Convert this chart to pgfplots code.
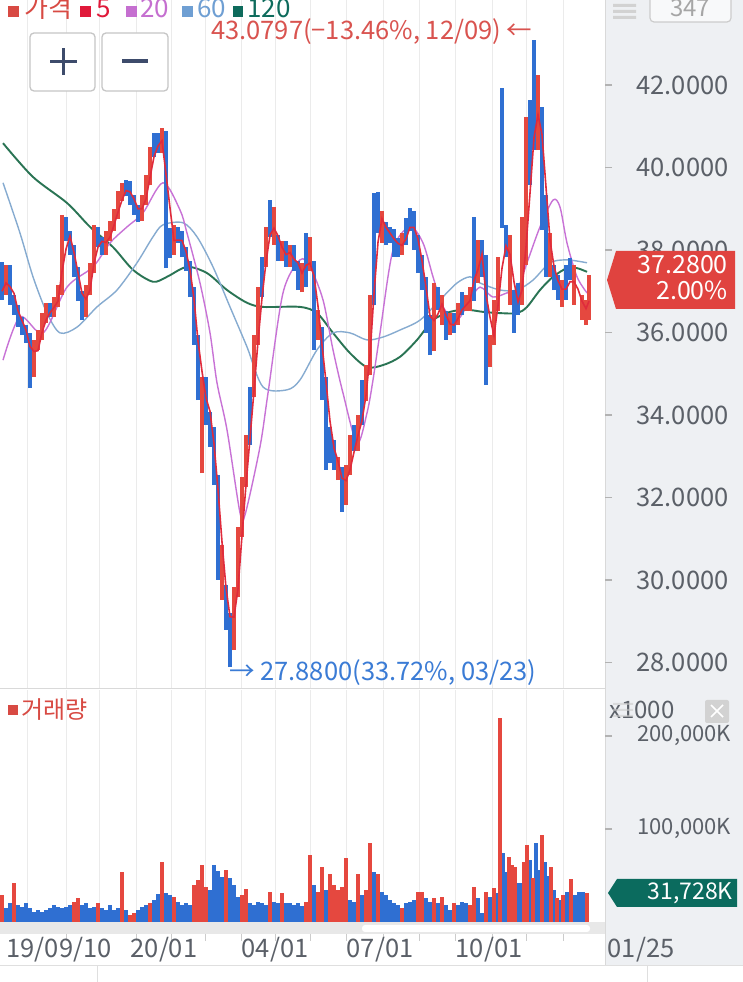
\documentclass[border=0pt]{standalone}
\usepackage{pgfplots}
\pgfplotsset{compat=1.18}
\usepackage{pgfplotstable}
\usepackage{fontspec}
\setmainfont{Noto Sans CJK KR}
\newcommand\fs[1]{\fontsize{#1bp}{#1bp}\selectfont}
\definecolor{candred}{HTML}{E5483F}
\definecolor{candblue}{HTML}{2F6FD2}
\definecolor{maf}{HTML}{E02B3C}
\definecolor{mat}{HTML}{C872D6}
\definecolor{mas}{HTML}{86ABD0}
\definecolor{mao}{HTML}{2A7454}
\definecolor{gridgrey}{HTML}{EBEBEB}
\definecolor{panelgrey}{HTML}{EEF0F3}
\definecolor{labgrey}{HTML}{5B6068}
\definecolor{tagred}{HTML}{E0433F}
\definecolor{tagteal}{HTML}{0B6B5E}
\definecolor{annred}{HTML}{D9534F}
\definecolor{annblue}{HTML}{3A7BD5}
\definecolor{legred}{HTML}{D84A43}
\definecolor{legfive}{HTML}{E0193A}
\definecolor{legtwenty}{HTML}{C56FD0}
\definecolor{legsixty}{HTML}{6F9FD3}
\definecolor{legonetwenty}{HTML}{0E6B5C}
\definecolor{btnnavy}{HTML}{3D4B6B}

\pgfplotstableread{
x lo hi
6 36.91 37.64
34 34.92 35.82
38 35.58 36.06
42 35.82 36.47
46 36.23 36.72
54 36.38 36.86
58 36.62 37.15
62 36.91 38.85
86 36.38 37.15
90 36.91 37.69
94 37.44 38.61
106 37.88 38.46
110 38.22 38.70
114 38.46 38.99
118 38.75 39.43
122 39.19 39.62
142 38.70 39.33
146 39.09 39.82
150 39.58 40.50
162 40.35 40.96
174 37.88 38.61
202 32.59 34.92
222 29.52 30.85
234 28.30 29.83
238 29.59 31.29
242 31.04 32.50
246 32.26 33.51
254 34.44 35.94
258 35.70 37.10
266 37.59 38.56
274 38.12 39.04
282 37.73 38.22
290 37.59 38.12
302 36.98 37.69
310 37.49 38.31
318 35.82 36.55
338 32.42 32.98
346 31.82 32.79
350 32.55 33.51
358 33.13 34.00
366 34.34 35.21
370 34.97 36.91
382 38.17 38.95
402 37.88 38.41
434 35.55 37.20
442 36.18 36.91
450 35.94 36.47
458 36.18 36.72
466 36.52 36.91
470 36.52 37.10
478 37.20 38.24
490 35.16 35.94
494 35.70 36.79
498 36.52 37.83
510 36.67 38.36
522 36.67 38.80
526 37.64 41.22
538 40.42 42.24
550 37.35 38.41
562 36.62 37.27
574 36.67 37.64
582 36.30 36.91
586 36.18 36.79
589 36.30 37.39
}\redcandles

\pgfplotstableread{
x lo hi
2 36.79 37.71
10 36.67 37.64
14 36.42 36.91
18 36.13 36.67
22 35.94 36.38
26 35.75 36.18
30 34.65 35.99
50 36.38 36.72
66 38.22 38.80
70 37.88 38.46
74 37.35 38.12
78 36.76 37.59
82 36.30 37.01
98 38.07 38.56
102 37.88 38.31
126 39.31 39.70
130 39.09 39.67
134 38.85 39.33
138 38.68 39.09
154 40.25 40.84
158 40.35 40.84
166 37.56 40.89
170 37.81 38.53
178 38.17 38.56
182 37.83 38.46
186 37.49 38.07
190 36.86 37.73
194 35.70 37.10
198 34.36 35.94
206 33.76 34.92
210 33.23 34.07
214 32.30 33.71
218 30.00 32.55
226 28.79 29.88
230 27.89 29.20
250 33.27 34.68
262 36.86 37.83
270 38.31 39.21
278 37.73 38.36
286 37.59 38.22
294 37.49 38.12
298 37.03 37.73
306 37.10 38.41
314 35.58 37.73
322 34.36 36.13
326 32.67 34.92
330 32.84 33.71
334 32.67 33.39
342 31.65 32.74
354 33.13 33.76
362 33.76 34.85
374 36.67 39.38
378 38.41 39.41
386 38.12 38.68
390 38.17 38.56
394 37.83 38.51
398 37.83 38.29
406 38.12 38.78
410 38.46 39.02
414 38.00 38.95
418 37.44 38.36
422 37.03 37.88
426 35.99 37.35
430 35.45 36.42
438 36.55 37.10
446 35.82 36.52
454 35.99 36.47
462 36.42 36.98
474 36.76 38.80
482 37.35 38.24
486 34.73 37.88
502 38.53 41.93
506 37.83 38.61
514 35.99 37.03
518 36.42 37.20
530 39.58 41.64
534 40.42 43.08
542 38.48 41.47
546 37.35 39.33
554 37.03 37.64
558 36.79 37.39
566 36.79 37.64
570 37.27 37.81
}\bluecandles

\pgfplotstableread{
x y
2 37.00
6 37.20
10 37.11
14 36.95
18 36.53
22 36.29
26 36.06
30 35.66
34 35.54
38 35.56
42 36.00
46 36.30
50 36.48
54 36.61
58 36.76
62 37.48
66 38.02
70 38.34
74 37.94
78 37.45
82 36.95
86 36.81
90 37.03
94 37.68
98 38.07
102 38.21
106 38.18
110 38.31
114 38.60
118 38.92
122 39.21
126 39.44
130 39.41
134 39.24
138 39.00
142 39.00
146 39.24
150 39.76
154 40.26
158 40.52
162 40.65
166 39.84
170 39.02
174 38.23
178 38.24
182 38.23
186 37.97
190 37.52
194 36.81
198 35.79
202 35.06
206 34.41
210 34.09
214 33.30
218 32.20
222 30.92
226 29.81
230 29.11
234 29.10
238 29.79
242 31.08
246 32.31
250 33.44
254 34.59
258 35.79
262 36.84
266 37.71
270 38.36
274 38.53
278 38.34
282 38.07
286 37.89
290 37.94
294 37.78
298 37.69
302 37.44
306 37.63
310 37.68
314 37.37
318 36.64
322 35.70
326 34.80
330 33.85
334 33.20
338 32.88
342 32.47
346 32.41
350 32.67
354 33.10
358 33.51
362 33.86
366 34.48
370 35.45
374 36.95
378 38.19
382 38.76
386 38.55
390 38.41
394 38.27
398 38.16
402 38.11
406 38.27
410 38.55
414 38.55
418 38.27
422 37.74
426 37.10
430 36.40
434 36.29
438 36.45
442 36.69
446 36.42
450 36.21
454 36.18
458 36.34
462 36.55
466 36.66
470 36.77
474 37.26
478 37.53
482 37.90
486 36.92
490 36.37
494 35.92
498 36.66
502 37.56
506 38.10
510 37.89
514 37.23
518 36.74
522 37.03
526 38.08
530 39.38
534 40.73
538 41.28
542 40.80
546 39.52
550 38.24
554 37.60
558 37.26
562 37.05
566 37.05
570 37.23
574 37.23
578 37.05
582 36.76
586 36.58
589 36.76
}\mafive

\pgfplotstableread{
x y
3 35.33
20 36.38
43 35.99
67 37.10
93 37.59
110 38.17
127 38.56
143 38.90
163 39.63
180 38.97
187 38.41
200 37.20
210 35.99
217 34.78
227 33.64
240 31.63
245 31.58
260 33.23
268 34.53
283 36.96
300 37.76
310 37.59
323 36.79
333 35.58
343 34.53
357 33.32
367 34.05
373 34.85
380 35.99
393 38.00
410 38.56
423 38.17
433 37.35
443 36.62
457 36.30
470 36.79
480 37.10
493 36.86
507 36.96
517 37.03
527 37.69
540 38.56
553 39.21
560 39.04
567 38.17
577 37.35
587 36.96
}\matwenty

\pgfplotstableread{
x y
3 39.63
20 38.41
33 37.35
47 36.47
60 35.99
77 36.13
97 36.62
117 37.03
137 37.69
153 38.32
163 38.61
183 38.66
197 38.32
213 37.59
230 36.62
247 35.65
263 34.68
287 34.61
300 34.85
317 35.58
333 35.99
350 35.99
367 35.82
383 35.89
400 36.06
420 36.30
440 36.79
457 37.20
470 37.35
480 37.20
500 37.03
517 37.03
533 37.27
550 37.69
567 37.76
587 37.69
}\masixty

\pgfplotstableread{
x y
3 40.59
33 39.77
67 39.14
90 38.56
113 38.07
133 37.52
153 37.23
167 37.35
187 37.59
207 37.44
227 37.03
247 36.72
263 36.62
300 36.62
317 36.47
333 35.99
350 35.50
367 35.16
383 35.21
400 35.41
417 35.82
433 36.30
450 36.50
467 36.55
483 36.50
500 36.47
517 36.47
527 36.62
540 37.03
553 37.35
567 37.56
577 37.56
587 37.47
}\maonetwenty

\pgfplotstableread{
x v
2 29
14 42
74 22
78 26
98 20
122 54
130 8
134 10
150 20
162 65
174 27
194 40
198 45
202 61
206 38
226 56
242 29
246 36
270 32
282 31
306 22
310 72
318 32
322 59
330 52
334 40
338 34
342 38
346 69
358 52
366 34
370 85
378 52
402 15
418 32
422 32
434 26
442 27
454 20
470 18
474 38
486 32
494 37
500 219
509 70
512 61
515 59
524 65
527 83
533 47
542 94
551 59
557 26
563 29
571 46
587 31.7
}\redvol

\pgfplotstableread{
x v
6 15
10 20
18 18
22 16
26 20
30 15
34 11
38 13
42 11
46 13
50 15
54 18
58 16
62 15
66 16
70 18
82 18
86 20
90 15
94 16
102 15
106 13
110 18
114 13
118 15
126 13
138 13
142 16
146 18
154 24
158 30
166 31
170 29
178 22
182 18
186 20
190 18
210 34
214 61
218 55
222 48
230 47
234 40
238 27
250 20
254 18
258 21
262 20
266 18
274 22
278 20
286 20
290 20
294 18
298 20
302 17
314 40
326 34
350 24
354 22
362 29
374 54
382 32
386 29
390 24
394 20
398 18
406 20
410 22
414 24
426 26
430 22
438 20
446 18
450 13
458 18
462 22
466 20
478 26
482 10
490 27
498 31
503 74
506 54
518 42
521 42
530 67
536 85
539 56
545 65
548 50
554 34
560 24
567 32
575 29
579 32
583 32
}\bluevol

\begin{document}
\begin{tikzpicture}[x=1bp,y=1bp]
\useasboundingbox (0,0) rectangle (743,982);
% backgrounds
\fill[white] (0,0) rectangle (743,982);
\fill[panelgrey] (605,17) rectangle (743,982);
\draw[gray!30, line width=1bp] (605,17) -- (605,982);
\fill[gray!18] (0,48) rectangle (605,60);
\fill[white, rounded corners=3bp] (362,50) rectangle (590,57);
\draw[gray!30, line width=1bp] (0,293) -- (605,293);
\draw[gray!25, line width=1bp] (0,16) -- (743,16);
\draw[gray!25, line width=1bp] (97,0) -- (97,16);
\draw[gray!25, line width=1bp] (647,0) -- (647,16);

% price panel
\begin{axis}[at={(0bp,294bp)}, anchor=south west, scale only axis,
  width=605bp, height=688bp,
  xmin=0, xmax=605, ymin=27.382, ymax=44.061,
  axis line style={draw=none},
  xtick={27,66,99,136,171,205,241,275,310,346,383,419,455,492,526,563},
  xticklabels={}, xtick style={draw=none},
  xmajorgrids, grid style={draw=gridgrey, line width=1bp},
  ytick={28,30,32,34,36,38,40,42},
  yticklabels={28.0000,30.0000,32.0000,34.0000,36.0000,38.0000,40.0000,42.0000},
  yticklabel pos=right, tick align=outside, major tick length=7bp,
  ytick style={draw=gray!60, line width=1.2bp},
  yticklabel style={font=\fs{25.5}, color=labgrey, xshift=21bp}]
\addplot[mao, line width=1.9bp, smooth, tension=0.5, mark=none] table[x=x,y=y] {\maonetwenty};
\addplot[mas, line width=1.4bp, smooth, tension=0.5, mark=none] table[x=x,y=y] {\masixty};
\addplot[mat, line width=1.4bp, smooth, tension=0.5, mark=none] table[x=x,y=y] {\matwenty};
\addplot[draw=none, mark=none,
  error bars/.cd, y dir=plus, y explicit, error mark=none,
  error mark options={draw=none, fill=none},
  error bar style={line width=3.5bp, draw=candblue, solid}]
  table[x=x, y=lo, y error expr=\thisrow{hi}-\thisrow{lo}] {\bluecandles};
\addplot[draw=none, mark=none,
  error bars/.cd, y dir=plus, y explicit, error mark=none,
  error mark options={draw=none, fill=none},
  error bar style={line width=3.5bp, draw=candred, solid}]
  table[x=x, y=lo, y error expr=\thisrow{hi}-\thisrow{lo}] {\redcandles};
\addplot[maf, line width=1.6bp, mark=none] table[x=x,y=y] {\mafive};
\end{axis}

% volume panel
\begin{axis}[at={(0bp,60bp)}, anchor=south west, scale only axis,
  width=605bp, height=232bp,
  xmin=0, xmax=605, ymin=0, ymax=249.5,
  axis line style={draw=none},
  xtick={27,66,99,136,171,205,241,275,310,346,383,419,455,492,526,563},
  xticklabels={}, xtick style={draw=none},
  xmajorgrids, grid style={draw=gridgrey, line width=1bp},
  ytick={100,200}, yticklabels={{100,000K},{200,000K}},
  yticklabel pos=right, tick align=outside, major tick length=7bp,
  ytick style={draw=gray!60, line width=1.2bp},
  yticklabel style={font=\fs{22}, color=labgrey, xshift=22bp}]
\addplot[ycomb, candblue, line width=3.4bp, mark=none] table[x=x,y=v] {\bluevol};
\addplot[ycomb, candred, line width=3.4bp, mark=none] table[x=x,y=v] {\redvol};
\end{axis}

% x tick marks and labels
\foreach \xx in {66,136,171,205,241,275,310,346,383,419,455,492,526,563}
  \draw[gray!40, line width=1bp] (\xx,48) -- (\xx,41);
\begin{scope}[every node/.style={font=\fs{25.5}, color=labgrey}]
\node at (59,32) {19/09/10};
\node at (164,32) {20/01};
\node at (275,32) {04/01};
\node at (380,32) {07/01};
\node at (489,32) {10/01};
\node at (641,32) {01/25};
\end{scope}

% legend at top
\fill[legred] (8,965) rectangle (19,976);
\node[anchor=base west, inner sep=0, font=\fs{26}, color=legred] at (24,964) {가격};
\fill[legfive] (80,965) rectangle (91,976);
\node[anchor=base west, inner sep=0, font=\fs{26}, color=legfive] at (96,964) {5};
\fill[legtwenty] (126,965) rectangle (137,976);
\node[anchor=base west, inner sep=0, font=\fs{26}, color=legtwenty] at (140,964) {20};
\fill[legsixty] (182,965) rectangle (193,976);
\node[anchor=base west, inner sep=0, font=\fs{26}, color=legsixty] at (197,964) {60};
\fill[legonetwenty] (233,965) rectangle (243,976);
\node[anchor=base west, inner sep=0, font=\fs{26}, color=legonetwenty] at (247,964) {120};

% zoom buttons
\draw[gray!45, fill=white, rounded corners=4bp, line width=1.3bp] (30,891) rectangle (95,949);
\draw[gray!45, fill=white, rounded corners=4bp, line width=1.3bp] (102,891) rectangle (168,949);
\draw[btnnavy, line width=3.8bp] (50,920.5) -- (77,920.5);
\draw[btnnavy, line width=3.8bp] (63.5,907) -- (63.5,934);
\draw[btnnavy, line width=3.8bp] (122,921) -- (148,921);

% annotations
\node[anchor=west, inner sep=0, font=\fs{25.5}, color=annred] at (211,950) {43.0797(−13.46\%, 12/09) ←};
\node[anchor=west, inner sep=0, font=\fs{25.5}, color=annblue] at (229,309) {→ 27.8800(33.72\%, 03/23)};

% last price tag
\fill[tagred] (607,702) -- (616,731) -- (735,731) -- (735,673) -- (616,673) -- cycle;
\node[anchor=east, inner sep=0, font=\fs{25}, color=white] at (728,717) {37.2800};
\node[anchor=east, inner sep=0, font=\fs{25}, color=white] at (728,692) {2.00\%};

% volume tag
\fill[tagteal] (608,89) -- (617,103) -- (737,103) -- (737,75) -- (617,75) -- cycle;
\node[anchor=east, inner sep=0, font=\fs{23}, color=white] at (733,89) {31,728K};

% volume header
\fill[legred] (8,267) rectangle (18,277);
\node[anchor=west, inner sep=0, font=\fs{24}, color=legred] at (21,272) {거래량};
\node[anchor=west, inner sep=0, font=\fs{24}, color=labgrey] at (609,272) {x1000};
\fill[gray!40, opacity=0.6] (613,277) rectangle (633,279) (613,271) rectangle (633,273) (613,265) rectangle (633,267);
\fill[gray!35, rounded corners=2bp] (705,259) rectangle (729,282);
\draw[white, line width=1.5bp] (711,265) -- (723,277) (711,277) -- (723,265);

% top right
\fill[gray!35] (613,975) rectangle (636,978) (613,969) rectangle (636,972) (613,963) rectangle (636,966);
\draw[gray!40, fill=white!60!panelgrey, rounded corners=4bp, line width=1.2bp] (650,960) rectangle (731,990);
\node[font=\fs{24}, color=gray!70] at (690,974) {347};
\end{tikzpicture}
\end{document}
